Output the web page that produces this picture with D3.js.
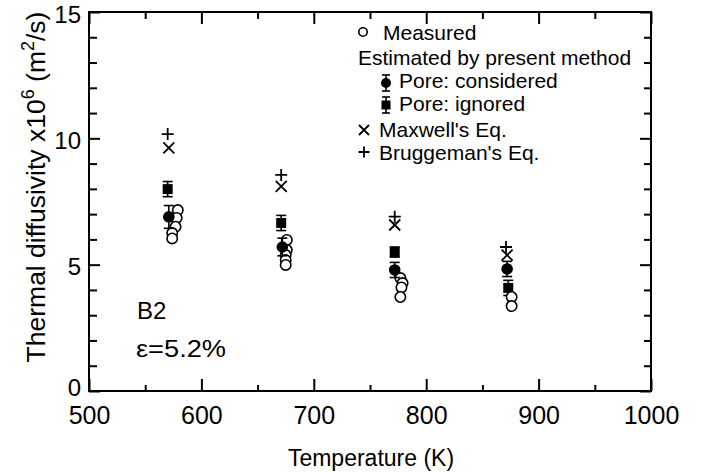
<!DOCTYPE html>
<html>
<head>
<meta charset="utf-8">
<script src="https://cdn.jsdelivr.net/npm/d3@7/dist/d3.min.js"></script>
<style>
  html, body { margin: 0; padding: 0; background: #fff; }
  svg { display: block; font-family: "Liberation Sans", Arial, Helvetica, sans-serif; }
</style>
</head>
<body>
<svg id="chart" width="701" height="473"></svg>
<script>
// ---- data ----
const xMajorTicks = [500, 600, 700, 800, 900, 1000];
const xMinorTicks = [550, 650, 750, 850, 950];
const yMajorTicks = [0, 5, 10, 15];
const yMinorTicks = [1, 2, 3, 4, 6, 7, 8, 9, 11, 12, 13, 14];

const measuredT = [579, 578, 577, 574, 574, 676, 676, 675, 675, 675, 777, 779, 778, 777, 876, 876];
const measuredV = [7.16, 6.85, 6.5, 6.25, 6.04, 5.98, 5.58, 5.38, 5.18, 4.99, 4.47, 4.27, 4.1, 3.72, 3.72, 3.36];

const poreConsT = [571, 672, 772, 872];
const poreConsV = [6.89, 5.7, 4.79, 4.83];
const poreConsErr = [0.45, 0.35, 0.3, 0.3];

const poreIgnT = [570, 671, 772, 873];
const poreIgnV = [7.99, 6.65, 5.5, 4.08];
const poreIgnErr = [0.3, 0.3, 0.2, 0.3];

const maxwellT = [571, 671, 772, 872];
const maxwellV = [9.62, 8.1, 6.57, 5.38];

const bruggT = [570, 671, 772, 871];
const bruggV = [10.17, 8.55, 6.9, 5.7];

const legendItems = ["Measured", "Estimated by present method", "Pore: considered", "Pore: ignored", "Maxwell's Eq.", "Bruggeman's Eq."];

// ---- layout ----
const svg = d3.select("#chart");
const L = 89, R = 651, T = 12, B = 391;
const x = d3.scaleLinear().domain([500, 1000]).range([L, R]);
const y = d3.scaleLinear().domain([0, 15]).range([B, T]);
const ink = "#000";

// axes
function styleAxis(g) {
  g.select(".domain").remove();
  g.selectAll(".tick line").attr("stroke", ink).attr("stroke-width", 2);
  g.selectAll(".tick text").attr("fill", ink);
}
const fmt = d3.format("d");
svg.append("g").attr("transform", `translate(0,${B})`)
  .call(d3.axisBottom(x).tickValues(xMajorTicks).tickSize(-12).tickPadding(15).tickFormat(fmt))
  .call(styleAxis).call(g => g.selectAll("text").attr("font-size", 25).attr("font-family", "Liberation Sans"));
svg.append("g").attr("transform", `translate(0,${B})`)
  .call(d3.axisBottom(x).tickValues(xMinorTicks).tickSize(-6).tickFormat(""))
  .call(styleAxis);
svg.append("g").attr("transform", `translate(0,${T})`)
  .call(d3.axisTop(x).tickValues(xMajorTicks).tickSize(-12).tickFormat(""))
  .call(styleAxis);
svg.append("g").attr("transform", `translate(0,${T})`)
  .call(d3.axisTop(x).tickValues(xMinorTicks).tickSize(-7).tickFormat(""))
  .call(styleAxis);
svg.append("g").attr("transform", `translate(${L},0)`)
  .call(d3.axisLeft(y).tickValues(yMajorTicks).tickSize(-11).tickPadding(8).tickFormat(fmt))
  .call(styleAxis)
  .call(g => g.selectAll("text").attr("font-size", 24).attr("font-family", "Liberation Sans")
    .attr("dy", d => d === 0 ? "0.2em" : "0.42em"));
svg.append("g").attr("transform", `translate(${L},0)`)
  .call(d3.axisLeft(y).tickValues(yMinorTicks).tickSize(-8).tickFormat(""))
  .call(styleAxis);
svg.append("g").attr("transform", `translate(${R},0)`)
  .call(d3.axisRight(y).tickValues(yMajorTicks).tickSize(-11).tickFormat(""))
  .call(styleAxis);
svg.append("g").attr("transform", `translate(${R},0)`)
  .call(d3.axisRight(y).tickValues(yMinorTicks).tickSize(-7).tickFormat(""))
  .call(styleAxis);

// frame
svg.append("rect").attr("x", L).attr("y", T).attr("width", R - L).attr("height", B - T)
  .attr("fill", "none").attr("stroke", ink).attr("stroke-width", 2);

// axis titles
svg.append("text").attr("x", 371).attr("y", 466).attr("text-anchor", "middle")
  .attr("font-size", 23).attr("fill", ink).text("Temperature (K)");

const yt = svg.append("text").attr("transform", "translate(45,187) rotate(-90)")
  .attr("text-anchor", "middle").attr("font-size", 26.5).attr("fill", ink);
yt.append("tspan").text("Thermal diffusivity x10");
yt.append("tspan").attr("font-size", 18).attr("dy", -11).text("6");
yt.append("tspan").attr("dy", 11).text(" (m");
yt.append("tspan").attr("font-size", 18).attr("dy", -11).text("2");
yt.append("tspan").attr("dy", 11).text("/s)");

// annotations
svg.append("text").attr("x", 137).attr("y", 319).attr("font-size", 24).attr("fill", ink).text("B2");
svg.append("text").attr("x", 136).attr("y", 357).attr("font-size", 24).attr("fill", ink)
  .attr("textLength", 90).attr("lengthAdjust", "spacingAndGlyphs").text("ε=5.2%");

// ---- symbol helpers ----
function openCircle(g, cx, cy, r) {
  g.append("circle").attr("cx", cx).attr("cy", cy).attr("r", r)
    .attr("fill", "#fff").attr("stroke", ink).attr("stroke-width", 1.6);
}
function errBar(g, cx, yTop, yBot, w) {
  g.append("line").attr("x1", cx).attr("x2", cx).attr("y1", yTop).attr("y2", yBot).attr("stroke", ink).attr("stroke-width", 1.6);
  g.append("line").attr("x1", cx - w).attr("x2", cx + w).attr("y1", yTop).attr("y2", yTop).attr("stroke", ink).attr("stroke-width", 1.6);
  g.append("line").attr("x1", cx - w).attr("x2", cx + w).attr("y1", yBot).attr("y2", yBot).attr("stroke", ink).attr("stroke-width", 1.6);
}
function cross(g, cx, cy, s) {
  g.append("path").attr("d", `M${cx - s},${cy - s}L${cx + s},${cy + s}M${cx - s},${cy + s}L${cx + s},${cy - s}`)
    .attr("stroke", ink).attr("stroke-width", 1.8).attr("fill", "none");
}
function plus(g, cx, cy, s) {
  g.append("path").attr("d", `M${cx - s},${cy}L${cx + s},${cy}M${cx},${cy - s}L${cx},${cy + s}`)
    .attr("stroke", ink).attr("stroke-width", 1.8).attr("fill", "none");
}

// ---- marks ----
const marks = svg.append("g");

bruggT.forEach((t, i) => plus(marks, x(t), y(bruggV[i]), 6));
maxwellT.forEach((t, i) => cross(marks, x(t), y(maxwellV[i]), 5.5));
poreIgnT.forEach((t, i) => {
  errBar(marks, x(t), y(poreIgnV[i] + poreIgnErr[i]), y(poreIgnV[i] - poreIgnErr[i]), 5);
  marks.append("rect").attr("x", x(t) - 5).attr("y", y(poreIgnV[i]) - 5).attr("width", 10).attr("height", 10).attr("fill", ink);
});
measuredT.forEach((t, i) => openCircle(marks, x(t), y(measuredV[i]), 5.2));
poreConsT.forEach((t, i) => {
  errBar(marks, x(t), y(poreConsV[i] + poreConsErr[i]), y(poreConsV[i] - poreConsErr[i]), 5);
  marks.append("circle").attr("cx", x(t)).attr("cy", y(poreConsV[i])).attr("r", 5.8).attr("fill", ink);
});

// ---- legend ----
const lg = svg.append("g").attr("font-size", 21).attr("fill", ink);
openCircle(lg, 363, 32, 4.2);
lg.append("text").attr("x", 383).attr("y", 40).text(legendItems[0]);
lg.append("text").attr("x", 358).attr("y", 65).text(legendItems[1]);
errBar(lg, 386, 75, 91, 4);
lg.append("circle").attr("cx", 386).attr("cy", 83).attr("r", 5).attr("fill", ink);
lg.append("text").attr("x", 399).attr("y", 88).text(legendItems[2]);
errBar(lg, 386, 97, 113, 4);
lg.append("rect").attr("x", 381.5).attr("y", 100.5).attr("width", 9).attr("height", 9).attr("fill", ink);
lg.append("text").attr("x", 399).attr("y", 111).text(legendItems[3]);
cross(lg, 364, 130, 5);
lg.append("text").attr("x", 379).attr("y", 137).text(legendItems[4]);
plus(lg, 364, 152, 5.5);
lg.append("text").attr("x", 379).attr("y", 160).text(legendItems[5]);
</script>
</body>
</html>
